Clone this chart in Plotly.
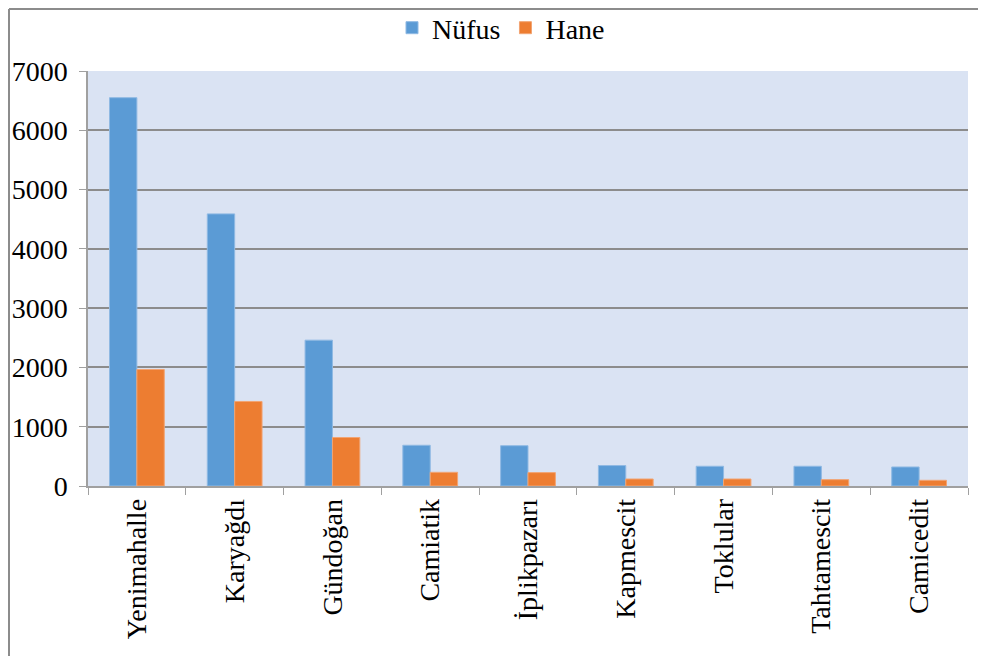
import plotly.graph_objects as go

categories = ["Yenimahalle", "Karyağdı", "Gündoğan", "Camiatik", "İplikpazarı",
              "Kapmescit", "Toklular", "Tahtamescit", "Camicedit"]
nufus = [6550, 4590, 2460, 687, 680, 345, 333, 333, 321]
hane = [1966, 1426, 818, 231, 226, 118, 118, 107, 96]
y_ticks = [0, 1000, 2000, 3000, 4000, 5000, 6000, 7000]

W, H = 986, 656
ml, mr, mt, mb = 80, 26, 63, 178

FONT = "Liberation Serif"
FS = 28

fig = go.Figure()
fig.add_trace(go.Bar(name="Nüfus", x=categories, y=nufus,
                     marker=dict(color="#5b9bd5", line=dict(color="#8fb9e3", width=1))))
fig.add_trace(go.Bar(name="Hane", x=categories, y=hane,
                     marker=dict(color="#ed7d31", line=dict(color="#f2a472", width=1))))

fig.update_layout(
    width=W, height=H,
    margin=dict(l=ml, r=mr, t=mt, b=mb, pad=0, autoexpand=False),
    paper_bgcolor="white",
    plot_bgcolor="#dae3f3",
    barmode="group",
    bargap=0.44,
    bargroupgap=0,
    font=dict(family=FONT, size=FS, color="black"),
    showlegend=True,
    legend=dict(orientation="h", x=0.5, xanchor="center", xref="container",
                y=1 - 20 / H, yanchor="middle", yref="container",
                font=dict(family=FONT, size=FS, color="black"), itemwidth=30,
                traceorder="normal", bgcolor="rgba(0,0,0,0)"),
    xaxis=dict(type="category", tickangle=-90, showline=True, linecolor="#a0a0a0",
               linewidth=1.5, ticks="outside", tickson="boundaries", ticklen=7,
               tickcolor="#a0a0a0", showgrid=False, automargin=False,
               tickfont=dict(family=FONT, size=FS, color="black")),
    yaxis=dict(range=[0, 7000], tickvals=y_ticks, showgrid=True, gridcolor="#8c8c8c",
               gridwidth=1.5, showline=True, linecolor="#a0a0a0", linewidth=1.5,
               ticks="outside", ticklen=7, tickcolor="#a0a0a0", zeroline=False,
               ticklabelstandoff=6, automargin=False,
               tickfont=dict(family=FONT, size=FS, color="black")),
)

# outer chart border (top and left edges of the chart frame)
pw = W - ml - mr
ph = H - mt - mb
xl = (-ml + 1) / pw
yt = 1 + (mt - 1) / ph
fig.add_shape(type="line", xref="paper", yref="paper", x0=xl, x1=xl, y0=-mb / ph, y1=yt,
              line=dict(color="#8c8c8c", width=2), layer="below")
fig.add_shape(type="line", xref="paper", yref="paper", x0=xl, x1=1 + mr / pw, y0=yt, y1=yt,
              line=dict(color="#8c8c8c", width=2), layer="below")

fig.write_html("out.html")
